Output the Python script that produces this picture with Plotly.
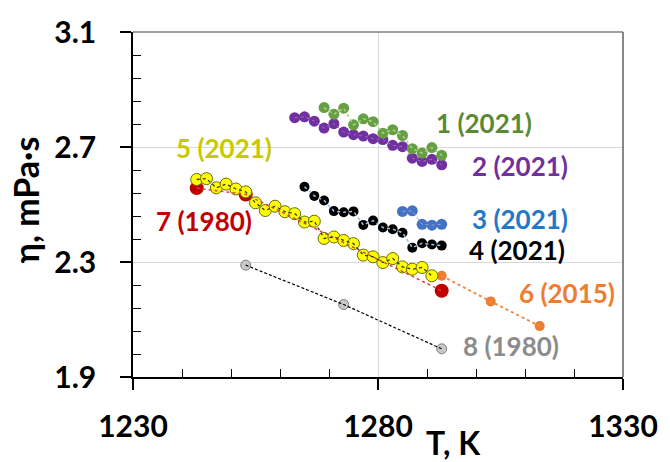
import plotly.graph_objects as go

# ---------------- data ----------------
t1 = [1269, 1271, 1273, 1275, 1277, 1279, 1281, 1283, 1285, 1287, 1289, 1291, 1293]
eta1 = [2.837, 2.814, 2.835, 2.777, 2.798, 2.788, 2.748, 2.760, 2.740, 2.694, 2.679, 2.698, 2.671]

t2 = [1263, 1265, 1267, 1269, 1271, 1273, 1275, 1277, 1279, 1281, 1283, 1285, 1287, 1289, 1291, 1293]
eta2 = [2.802, 2.805, 2.790, 2.766, 2.781, 2.752, 2.743, 2.738, 2.729, 2.726, 2.706, 2.701, 2.661, 2.650, 2.657, 2.638]

t3 = [1285, 1287, 1289, 1291, 1293]
eta3 = [2.476, 2.478, 2.431, 2.428, 2.431]

t4 = [1265, 1267, 1269, 1271, 1273, 1275, 1277, 1279, 1281, 1283, 1285, 1287, 1289, 1291, 1293]
eta4 = [2.562, 2.530, 2.514, 2.477, 2.473, 2.476, 2.429, 2.444, 2.420, 2.414, 2.402, 2.350, 2.365, 2.361, 2.357]

t5 = [1243, 1245, 1247, 1249, 1251, 1253, 1255, 1257, 1259, 1261, 1263, 1265, 1267,
      1269, 1271, 1273, 1275, 1277, 1279, 1281, 1283, 1285, 1287, 1289, 1291]
eta5 = [2.587, 2.590, 2.558, 2.571, 2.554, 2.544, 2.506, 2.479, 2.494, 2.475, 2.468, 2.439, 2.442,
        2.382, 2.387, 2.375, 2.364, 2.324, 2.318, 2.298, 2.312, 2.283, 2.275, 2.281, 2.252]

t6 = [1293, 1303, 1313]
eta6 = [2.252, 2.163, 2.077]

t7 = [1243, 1253, 1293]
eta7 = [2.557, 2.535, 2.200]

t8 = [1253, 1273, 1293]
eta8 = [2.289, 2.152, 1.998]

labels = ["1 (2021)", "2 (2021)", "3 (2021)", "4 (2021)", "5 (2021)", "6 (2015)", "7 (1980)", "8 (1980)"]

x_ticks = [1230, 1280, 1330]
y_ticks = [1.9, 2.3, 2.7, 3.1]

# ---------------- figure ----------------
FONT = "Lato"
fig = go.Figure()

def markers(x, y, color, size, line_color=None, line_width=0):
    fig.add_trace(go.Scatter(
        x=x, y=y, mode="markers", showlegend=False, hoverinfo="skip",
        marker=dict(color=color, size=size,
                    line=dict(color=line_color or color, width=line_width))))

def dotted(x, y, color, width=1.5, dash="dot"):
    fig.add_trace(go.Scatter(
        x=x, y=y, mode="lines", showlegend=False, hoverinfo="skip",
        line=dict(color=color, width=width, dash=dash)))

# marker layers
markers(t8, eta8, "#C8C8C8", 10, "#7F7F7F", 1)
markers(t7, eta7, "#C00000", 14)
markers(t6, eta6, "#ED7D31", 10)
markers(t2, eta2, "#7030A0", 11)
markers(t1, eta1, "#67A043", 11)
markers(t3, eta3, "#4472C4", 11)
markers(t4, eta4, "#000000", 10)
markers(t5, eta5, "#FFFF00", 12, "#6B6B00", 1)

# connecting lines on top
dotted(t8, eta8, "#000000", 1.2, "3px,2px")
dotted(t7, eta7, "#E04040", 1.5)
dotted(t6, eta6, "#F08A4B", 2)
dotted(t2, eta2, "#9E6CC4", 1)
dotted(t1, eta1, "#A9D18E", 1.5)
dotted(t3, eta3, "#8FAADC", 1)
dotted(t4, eta4, "#9DC3E6", 1.5)
dotted(t5, eta5, "#333333", 1.3)

# series labels
label_pos = [
    (1301.6, 2.782, "#5B8A36"),
    (1309.0, 2.633, "#7030A0"),
    (1308.9, 2.448, "#1F78C8"),
    (1308.4, 2.342, "#000000"),
    (1248.5, 2.695, "#C9C900"),
    (1318.6, 2.191, "#ED7D31"),
    (1244.4, 2.443, "#C00000"),
    (1307.2, 2.007, "#8C8C8C"),
]
for txt, (lx, ly, col) in zip(labels, label_pos):
    fig.add_annotation(x=lx, y=ly, text=txt, showarrow=False,
                       xanchor="center", yanchor="middle",
                       font=dict(family=FONT, size=26, color=col, weight=700))

# axis titles
fig.add_annotation(xref="paper", yref="paper", x=0.654, y=-0.19, text="T, K",
                   showarrow=False, xanchor="center", yanchor="middle",
                   font=dict(family=FONT, size=32, color="black", weight=700))
fig.add_annotation(xref="paper", yref="paper", x=-0.22, y=0.513, text="η, mPa·s",
                   showarrow=False, textangle=-90, xanchor="center", yanchor="middle",
                   font=dict(family=FONT, size=34, color="black", weight=700))

# top/right frame
fig.add_shape(type="line", xref="paper", yref="paper", x0=0, x1=1, y0=1, y1=1,
              line=dict(color="#808080", width=1.5))
fig.add_shape(type="line", xref="paper", yref="paper", x0=1, x1=1, y0=0, y1=1,
              line=dict(color="#606060", width=1.5))

fig.update_xaxes(
    range=[1230, 1330], tickvals=x_ticks, ticktext=[str(v) for v in x_ticks],
    showline=True, linecolor="black", linewidth=1.5,
    ticks="outside", ticklen=11, tickcolor="black", tickwidth=1.5,
    showgrid=True, gridcolor="#D9D9D9", gridwidth=1, zeroline=False,
    ticklabelstandoff=11,
    minor=dict(tickvals=[1240, 1250, 1260, 1270, 1290, 1300, 1310, 1320],
               ticks="inside", ticklen=8, tickcolor="black", tickwidth=1.2, showgrid=False),
    tickfont=dict(family=FONT, size=30, color="black", weight=700),
)
fig.update_yaxes(
    range=[1.9, 3.1], tickvals=y_ticks, ticktext=[f"{v:.1f}" for v in y_ticks],
    showline=True, linecolor="black", linewidth=1.5,
    ticks="outside", ticklen=11, tickcolor="black", tickwidth=1.5,
    showgrid=True, gridcolor="#D9D9D9", gridwidth=1, zeroline=False,
    ticklabelstandoff=18,
    minor=dict(tickvals=[1.98, 2.06, 2.14, 2.22, 2.38, 2.46, 2.54, 2.62, 2.78, 2.86, 2.94, 3.02],
               ticks="inside", ticklen=8, tickcolor="black", tickwidth=1.2, showgrid=False),
    tickfont=dict(family=FONT, size=30, color="black", weight=700),
)

fig.update_layout(
    width=670, height=462,
    margin=dict(l=133, r=40, t=30, b=85),
    paper_bgcolor="white", plot_bgcolor="white",
    showlegend=False,
)

fig.write_html("out.html")
